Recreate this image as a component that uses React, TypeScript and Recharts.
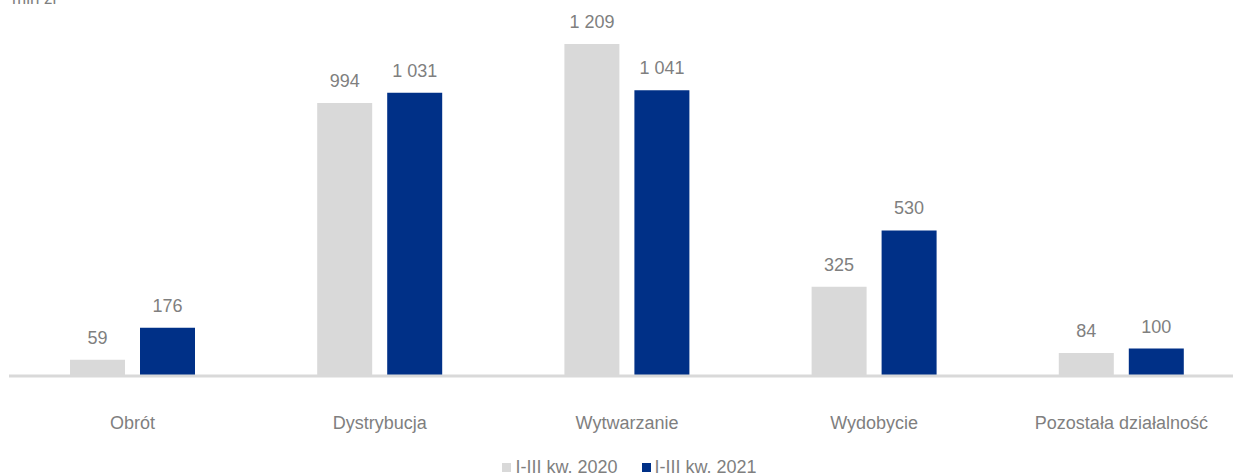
import { Bar, BarChart, LabelList, XAxis, YAxis } from "recharts";

// Wyniki segmentów, mln zł
const categories = ["Obrót", "Dystrybucja", "Wytwarzanie", "Wydobycie", "Pozostała działalność"];
const values2020 = [59, 994, 1209, 325, 84];
const values2021 = [176, 1031, 1041, 530, 100];
const seriesNames = ["I-III kw. 2020", "I-III kw. 2021"];

const GRAY = "#d9d9d9";
const BLUE = "#003087";
const TEXT = "#7f7f7f";
const FONT = "'Liberation Sans', Arial, sans-serif";

const data = categories.map((name, i) => ({ name, a: values2020[i], b: values2021[i] }));

const fmt = (v: unknown) => String(v).replace(/\B(?=(\d{3})+(?!\d))/g, " ");

export default function App() {
  return (
    <div style={{ position: "relative", width: 1233, height: 475, overflow: "hidden", fontFamily: FONT }}>
      <style>{"body{margin:0;overflow:hidden}"}</style>
      <span
        style={{ position: "absolute", left: 12, top: -10, fontSize: 17, lineHeight: 1, color: TEXT }}
      >
        mln zł
      </span>
      <BarChart
        width={1245}
        height={475}
        data={data}
        margin={{ top: 19, right: 0, bottom: 39, left: 9 }}
        barSize={55}
        barGap={15}
      >
        <YAxis hide domain={[0, 1300]} />
        <XAxis
          dataKey="name"
          height={60}
          tickLine={false}
          tickMargin={34}
          axisLine={{ stroke: GRAY, strokeWidth: 3 }}
          tick={{ fill: TEXT, fontSize: 18, fontFamily: FONT }}
          interval={0}
        />
        <Bar dataKey="a" fill={GRAY} isAnimationActive={false}>
          <LabelList dataKey="a" position="top" offset={16} formatter={fmt} fill={TEXT} fontSize={18} fontFamily={FONT} />
        </Bar>
        <Bar dataKey="b" fill={BLUE} isAnimationActive={false}>
          <LabelList dataKey="b" position="top" offset={16} formatter={fmt} fill={TEXT} fontSize={18} fontFamily={FONT} />
        </Bar>
      </BarChart>
      <div
        style={{
          position: "absolute",
          left: 0,
          top: 458,
          width: 1259,
          display: "flex",
          justifyContent: "center",
          alignItems: "center",
          fontSize: 18,
          lineHeight: 1,
          color: TEXT,
        }}
      >
        {seriesNames.map((s, i) => (
          <span key={s} style={{ display: "flex", alignItems: "center", marginLeft: i ? 24 : 0 }}>
            <span style={{ width: 9, height: 9, background: i ? BLUE : GRAY, marginRight: 4 }} />
            {s}
          </span>
        ))}
      </div>
    </div>
  );
}
